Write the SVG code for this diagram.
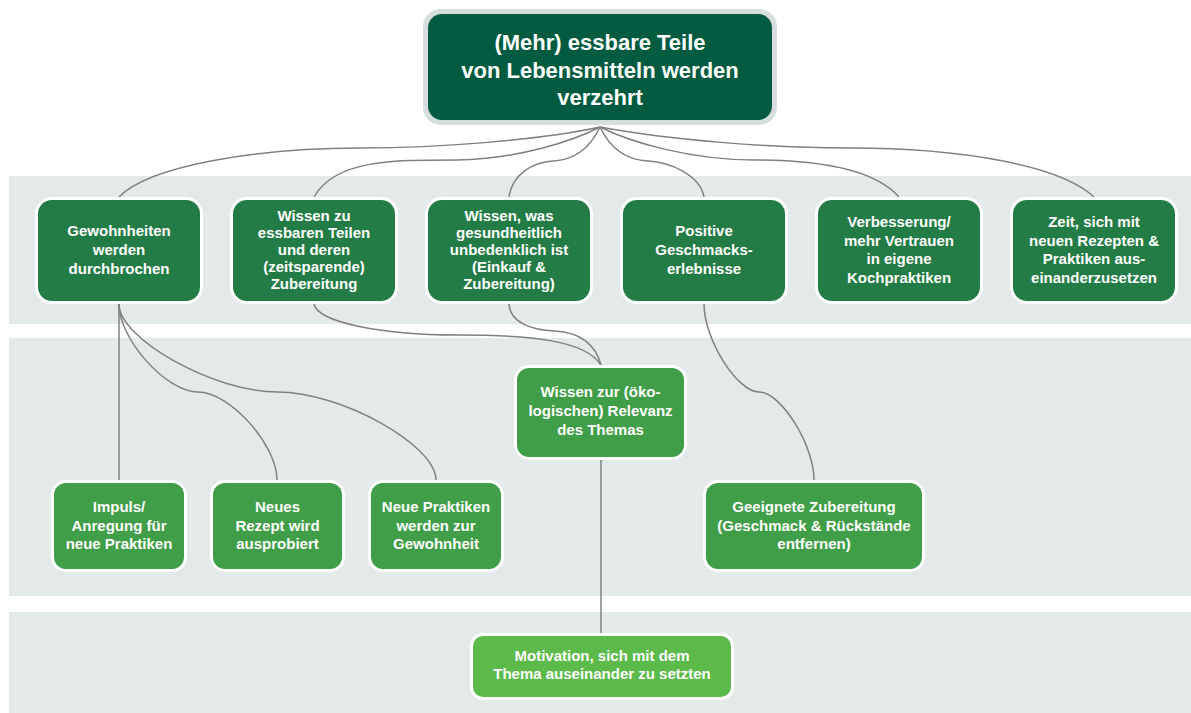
<svg xmlns="http://www.w3.org/2000/svg" width="1191" height="713" viewBox="0 0 1191 713">
  <style>
    .band { fill: #E4EAEA; }
    .conn { fill: none; stroke: #808080; stroke-width: 1.5; }
    .box { stroke: #FFFFFF; stroke-width: 6; paint-order: stroke; }
    .l1 { fill: #237C46; }
    .l2 { fill: #3F9E47; }
    .l3 { fill: #5CBA4B; }
    text { font-family: "Liberation Sans", Arial, sans-serif; font-weight: bold; fill: #FFFFFF; text-anchor: middle; font-size: 15px; }
    .title { font-size: 22px; }
  </style>

  <!-- background bands -->
  <g id="bands">
    <rect class="band" x="9" y="176" width="1182" height="148"/>
    <rect class="band" x="9" y="338" width="1182" height="258"/>
    <rect class="band" x="9" y="612" width="1182" height="101"/>
  </g>

  <!-- connectors -->
  <g id="connectors">
    <path class="conn" d="M600,127 C540,140 440,148 360,148 C260,148 150,165 119,197"/>
    <path class="conn" d="M600,127 C575,140 520,159 457,160 C390,160 335,160 314,197"/>
    <path class="conn" d="M600,127 C590,148 575,160 553,161 C532,162 512,175 509,197"/>
    <path class="conn" d="M600,127 C610,148 625,160 648,161 C670,162 700,175 704,197"/>
    <path class="conn" d="M600,127 C630,142 690,160 755,160 C820,160 875,170 899,197"/>
    <path class="conn" d="M600,127 C670,140 770,148 850,148 C960,148 1060,165 1094,197"/>

    <path class="conn" d="M314,304 C318,322 380,335 457,335 C530,335 585,340 601,365"/>
    <path class="conn" d="M509,304 C510,322 530,330 555,331 C580,332 596,345 601,365"/>

    <path class="conn" d="M119,304 L119,480"/>
    <path class="conn" d="M119,304 C119,339 166,392 198,392 C230,392 277,445 277,480"/>
    <path class="conn" d="M119,304 C119,339 214,392 277.5,392 C341,392 436,445 436,480"/>

    <path class="conn" d="M704,304 C704,339 737,392 759,392 C781,392 814,445 814,480"/>

    <path class="conn" d="M601,460 L601,633"/>
  </g>

  <!-- root -->
  <g id="root">
    <rect x="423" y="9" width="354" height="116" rx="18" fill="#D6DDDD"/>
    <rect x="428" y="14" width="344" height="106" rx="14" fill="#005B41"/>
    <text class="title"><tspan x="600" y="50">(Mehr) essbare Teile</tspan><tspan x="600" y="78">von Lebensmitteln werden</tspan><tspan x="600" y="105">verzehrt</tspan></text>
  </g>

  <!-- first level -->
  <g id="gewohnheiten">
    <rect class="box l1" x="38" y="200" width="162" height="101" rx="14"/>
    <text><tspan x="119" y="236">Gewohnheiten</tspan><tspan x="119" y="255">werden</tspan><tspan x="119" y="274">durchbrochen</tspan></text>
  </g>
  <g id="wissen-essbar">
    <rect class="box l1" x="233" y="200" width="162" height="101" rx="14"/>
    <text><tspan x="314" y="221">Wissen zu</tspan><tspan x="314" y="238">essbaren Teilen</tspan><tspan x="314" y="255">und deren</tspan><tspan x="314" y="272">(zeitsparende)</tspan><tspan x="314" y="289">Zubereitung</tspan></text>
  </g>
  <g id="wissen-gesundheit">
    <rect class="box l1" x="428" y="200" width="162" height="101" rx="14"/>
    <text><tspan x="509" y="221">Wissen, was</tspan><tspan x="509" y="238">gesundheitlich</tspan><tspan x="509" y="255">unbedenklich ist</tspan><tspan x="509" y="272">(Einkauf &amp;</tspan><tspan x="509" y="289">Zubereitung)</tspan></text>
  </g>
  <g id="geschmack">
    <rect class="box l1" x="623" y="200" width="162" height="101" rx="14"/>
    <text><tspan x="704" y="236">Positive</tspan><tspan x="704" y="255">Geschmacks-</tspan><tspan x="704" y="274">erlebnisse</tspan></text>
  </g>
  <g id="vertrauen">
    <rect class="box l1" x="818" y="200" width="162" height="101" rx="14"/>
    <text><tspan x="899" y="227">Verbesserung/</tspan><tspan x="899" y="245.5">mehr Vertrauen</tspan><tspan x="899" y="264">in eigene</tspan><tspan x="899" y="282.5">Kochpraktiken</tspan></text>
  </g>
  <g id="zeit">
    <rect class="box l1" x="1013" y="200" width="162" height="101" rx="14"/>
    <text><tspan x="1094" y="227">Zeit, sich mit</tspan><tspan x="1094" y="245.5">neuen Rezepten &amp;</tspan><tspan x="1094" y="264">Praktiken aus-</tspan><tspan x="1094" y="282.5">einanderzusetzen</tspan></text>
  </g>

  <!-- second level -->
  <g id="relevanz">
    <rect class="box l2" x="517" y="368" width="167" height="89" rx="12"/>
    <text><tspan x="600.5" y="397">Wissen zur (öko-</tspan><tspan x="600.5" y="416">logischen) Relevanz</tspan><tspan x="600.5" y="434.5">des Themas</tspan></text>
  </g>
  <g id="impuls">
    <rect class="box l2" x="54" y="483" width="130" height="86" rx="12"/>
    <text><tspan x="119" y="512">Impuls/</tspan><tspan x="119" y="530.5">Anregung für</tspan><tspan x="119" y="549">neue Praktiken</tspan></text>
  </g>
  <g id="rezept">
    <rect class="box l2" x="213" y="483" width="129" height="86" rx="12"/>
    <text><tspan x="277.5" y="512">Neues</tspan><tspan x="277.5" y="530.5">Rezept wird</tspan><tspan x="277.5" y="549">ausprobiert</tspan></text>
  </g>
  <g id="gewohnheit">
    <rect class="box l2" x="371" y="483" width="130" height="86" rx="12"/>
    <text><tspan x="436" y="512">Neue Praktiken</tspan><tspan x="436" y="530.5">werden zur</tspan><tspan x="436" y="549">Gewohnheit</tspan></text>
  </g>
  <g id="zubereitung">
    <rect class="box l2" x="706" y="483" width="216" height="86" rx="12"/>
    <text><tspan x="814" y="512">Geeignete Zubereitung</tspan><tspan x="814" y="530.5">(Geschmack &amp; Rückstände</tspan><tspan x="814" y="549">entfernen)</tspan></text>
  </g>

  <!-- third level -->
  <g id="motivation">
    <rect class="box l3" x="473" y="636" width="258" height="61" rx="10"/>
    <text><tspan x="602" y="660.5">Motivation, sich mit dem</tspan><tspan x="602" y="678.5">Thema auseinander zu setzten</tspan></text>
  </g>
</svg>
